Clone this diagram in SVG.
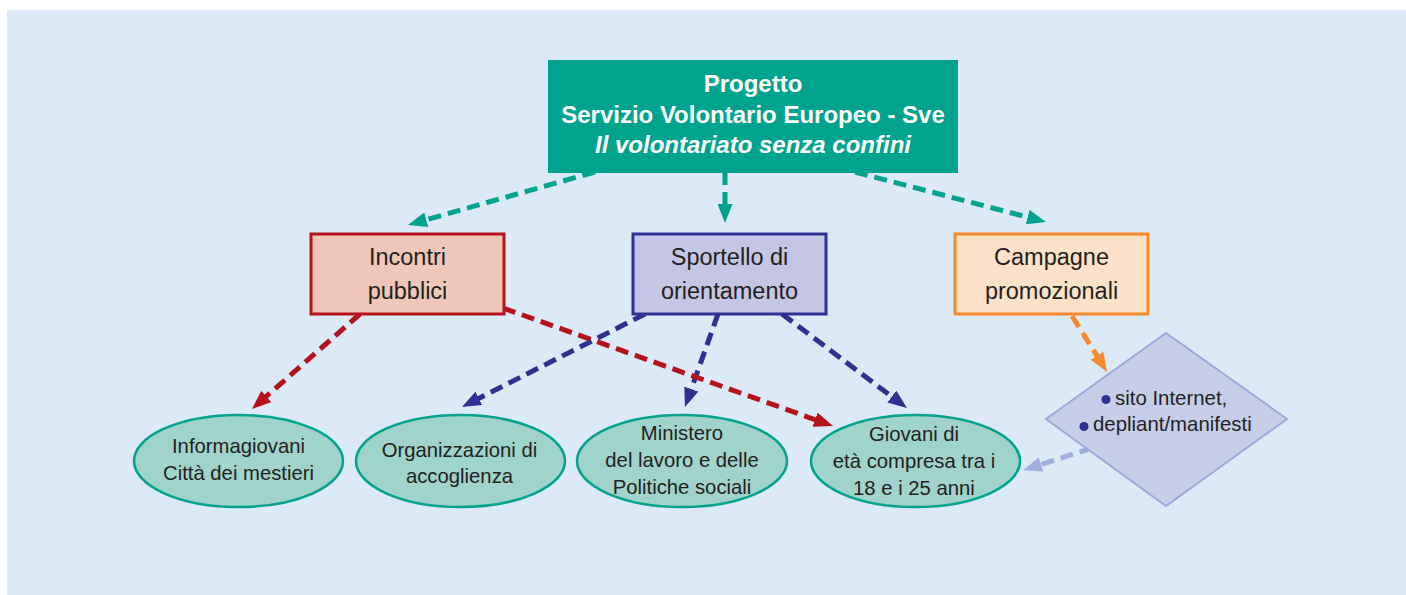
<svg xmlns="http://www.w3.org/2000/svg" width="1406" height="595" viewBox="0 0 1406 595">
<style>
.bg{fill:#dce9f6}
.t{font-family:"Liberation Sans",Arial,sans-serif;fill:#231f20;text-anchor:middle}
.box{font-size:23.5px}
.ell{font-size:20.3px}
.dia{font-size:20.4px;text-anchor:start}
.top{font-family:"Liberation Sans",Arial,sans-serif;fill:#ffffff;text-anchor:middle;font-size:24px;font-weight:bold}
.c{fill:none;stroke-width:5;stroke-dasharray:13 7}
.oval{fill:#9fd3cb;stroke:#00a38d;stroke-width:2.5}
</style>
<defs>
<marker id="aT" viewBox="0 -7.5 19 15" markerWidth="19" markerHeight="15" refX="1" refY="0" orient="auto" markerUnits="userSpaceOnUse"><path d="M0,-7.5 L19,0 L0,7.5 z" fill="#00a38d"/></marker>
<marker id="aR" viewBox="0 -7.5 19 15" markerWidth="19" markerHeight="15" refX="1" refY="0" orient="auto" markerUnits="userSpaceOnUse"><path d="M0,-7.5 L19,0 L0,7.5 z" fill="#b5121b"/></marker>
<marker id="aB" viewBox="0 -7.5 19 15" markerWidth="19" markerHeight="15" refX="1" refY="0" orient="auto" markerUnits="userSpaceOnUse"><path d="M0,-7.5 L19,0 L0,7.5 z" fill="#2e3192"/></marker>
<marker id="aO" viewBox="0 -7.5 19 15" markerWidth="19" markerHeight="15" refX="1" refY="0" orient="auto" markerUnits="userSpaceOnUse"><path d="M0,-7.5 L19,0 L0,7.5 z" fill="#f7892d"/></marker>
<marker id="aL" viewBox="0 -7.5 19 15" markerWidth="19" markerHeight="15" refX="1" refY="0" orient="auto" markerUnits="userSpaceOnUse"><path d="M0,-7.5 L19,0 L0,7.5 z" fill="#a0b0de"/></marker>
</defs>
<rect class="bg" x="7" y="10" width="1399" height="585"/>
<g id="connectors">
<line class="c" x1="595" y1="172" x2="425.3" y2="220" stroke="#00a38d" marker-end="url(#aT)"/>
<line class="c" x1="725" y1="172" x2="725" y2="205" stroke="#00a38d" marker-end="url(#aT)"/>
<line class="c" x1="855" y1="172" x2="1028.6" y2="217.4" stroke="#00a38d" marker-end="url(#aT)"/>
<line class="c" x1="645" y1="314" x2="478" y2="398.8" stroke="#2e3192" marker-end="url(#aB)"/>
<line class="c" x1="718" y1="314" x2="691" y2="390" stroke="#2e3192" marker-end="url(#aB)"/>
<line class="c" x1="782" y1="314" x2="892.6" y2="397.2" stroke="#2e3192" marker-end="url(#aB)"/>
<line class="c" x1="360" y1="314" x2="265.5" y2="397.1" stroke="#b5121b" marker-end="url(#aR)"/>
<line class="c" x1="503" y1="308" x2="816" y2="420" stroke="#b5121b" marker-end="url(#aR)"/>
<line class="c" x1="1072" y1="316" x2="1097.5" y2="356.7" stroke="#f7892d" marker-end="url(#aO)"/>
<line class="c" x1="1092" y1="448" x2="1040.2" y2="464.8" stroke="#a0b0de" marker-end="url(#aL)"/>
</g>
<g id="progetto">
<rect x="548" y="60" width="410" height="113" fill="#00a38d"/>
<text class="top" x="753" y="92">Progetto</text>
<text class="top" x="753" y="123">Servizio Volontario Europeo - Sve</text>
<text class="top" x="753" y="153" font-style="italic">Il volontariato senza confini</text>
</g>
<g id="incontri">
<rect x="311" y="234" width="193" height="80" fill="#f0c6b8" stroke="#b5121b" stroke-width="3"/>
<text class="t box" x="407.5" y="265">Incontri</text>
<text class="t box" x="407.5" y="299">pubblici</text>
</g>
<g id="sportello">
<rect x="633" y="234" width="193" height="80" fill="#c5c6e6" stroke="#2e3192" stroke-width="3"/>
<text class="t box" x="729.5" y="265">Sportello di</text>
<text class="t box" x="729.5" y="299">orientamento</text>
</g>
<g id="campagne">
<rect x="955" y="234" width="193" height="80" fill="#fde1c8" stroke="#f7892d" stroke-width="3"/>
<text class="t box" x="1051.5" y="265">Campagne</text>
<text class="t box" x="1051.5" y="299">promozionali</text>
</g>
<g id="mezzi">
<polygon points="1166,333 1287,419 1166,506 1046,419" fill="#c5cde9" stroke="#9aaad8" stroke-width="2"/>
<circle cx="1106" cy="399.5" r="4.5" fill="#2e3192"/>
<circle cx="1084" cy="426.5" r="4.5" fill="#2e3192"/>
<text class="t dia" x="1115" y="405">sito Internet,</text>
<text class="t dia" x="1093" y="431">depliant/manifesti</text>
</g>
<g id="informagiovani">
<ellipse class="oval" cx="238.5" cy="461" rx="104.5" ry="46"/>
<text class="t ell" x="238.5" y="453">Informagiovani</text>
<text class="t ell" x="238.5" y="480">Città dei mestieri</text>
</g>
<g id="organizzazioni">
<ellipse class="oval" cx="460.5" cy="461" rx="104.5" ry="46"/>
<text class="t ell" x="459.5" y="457">Organizzazioni di</text>
<text class="t ell" x="459.5" y="483">accoglienza</text>
</g>
<g id="ministero">
<ellipse class="oval" cx="682" cy="461" rx="105" ry="46"/>
<text class="t ell" x="682" y="440">Ministero</text>
<text class="t ell" x="682" y="467">del lavoro e delle</text>
<text class="t ell" x="682" y="494">Politiche sociali</text>
</g>
<g id="giovani">
<ellipse class="oval" cx="915.5" cy="461" rx="104.5" ry="46"/>
<text class="t ell" x="914" y="441">Giovani di</text>
<text class="t ell" x="914" y="468">età compresa tra i</text>
<text class="t ell" x="914" y="495">18 e i 25 anni</text>
</g>
</svg>
